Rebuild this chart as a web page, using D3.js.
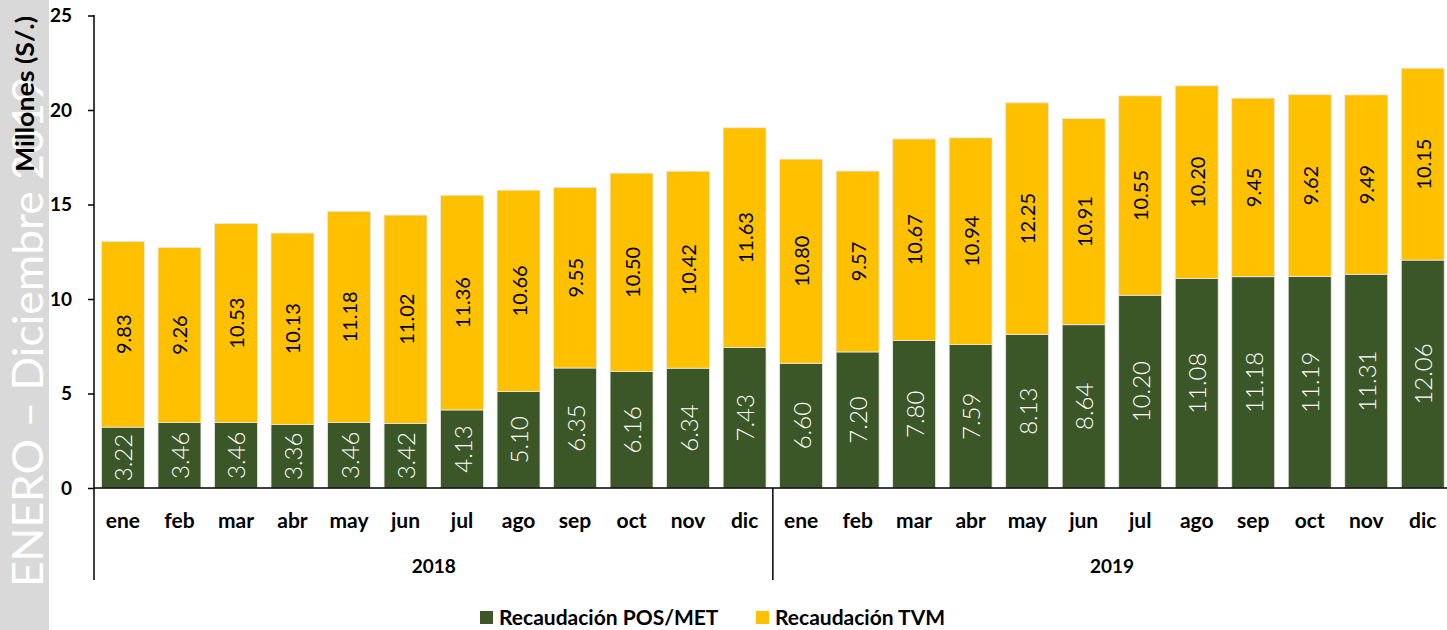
<!DOCTYPE html>
<html><head><meta charset="utf-8">
<script src="https://cdn.jsdelivr.net/npm/d3@7"></script>
<style>body{margin:0;background:#fff}svg{display:block}</style>
</head><body>
<svg id="c" width="1447" height="630"></svg>
<script>
const months = ["ene","feb","mar","abr","may","jun","jul","ago","sep","oct","nov","dic"];
const years = ["2018","2019"];
const posMet = [3.22,3.46,3.46,3.36,3.46,3.42,4.13,5.10,6.35,6.16,6.34,7.43,
                6.60,7.20,7.80,7.59,8.13,8.64,10.20,11.08,11.18,11.19,11.31,12.06];
const tvm = [9.83,9.26,10.53,10.13,11.18,11.02,11.36,10.66,9.55,10.50,10.42,11.63,
             10.80,9.57,10.67,10.94,12.25,10.91,10.55,10.20,9.45,9.62,9.49,10.15];
const yTicks = [0,5,10,15,20,25];
const seriesNames = ["Recaudación POS/MET","Recaudación TVM"];

const GREEN = "#3b5727", YELLOW = "#ffc000";
const svg = d3.select("#c");
const font = "Lato, 'Open Sans', sans-serif";

// left grey band
svg.append("rect").attr("x",0).attr("y",0).attr("width",49).attr("height",630).attr("fill","#d9d9d9");
svg.append("text").attr("transform","translate(43,587) rotate(-90)")
  .attr("font-family",font).attr("font-size",43).attr("fill","#fff")
  .attr("textLength",510).attr("lengthAdjust","spacingAndGlyphs")
  .text("ENERO – Diciembre 2019");
svg.append("text").attr("transform","translate(34,94) rotate(-90)")
  .attr("font-family",font).attr("font-size",24).attr("font-weight","bold").attr("fill","#000")
  .attr("text-anchor","middle").attr("textLength",156).attr("lengthAdjust","spacingAndGlyphs")
  .text("Millones (S/.)");

const data = posMet.map((p,i)=>({key:i, month:months[i%12], year:years[Math.floor(i/12)], pos:p, tvm:tvm[i]}));

const x = d3.scaleBand().domain(data.map(d=>d.key)).range([94.7,1451]).paddingInner(0.24).paddingOuter(0.12);
const y = d3.scaleLinear().domain([0,25]).range([488,15.5]);

// bars
const g = svg.append("g");
const stack = d3.stack().keys(["pos","tvm"])(data);
const colors = [GREEN, YELLOW];
stack.forEach((layer,li)=>{
  g.selectAll(null).data(layer).enter().append("rect")
    .attr("x",d=>x(d.data.key)).attr("width",x.bandwidth())
    .attr("y",d=>y(d[1])).attr("height",d=>y(d[0])-y(d[1]))
    .attr("fill",colors[li]).attr("stroke","#e8e8e8").attr("stroke-width",0.8);
  g.selectAll(null).data(layer).enter().append("text")
    .attr("transform",d=>`translate(${x(d.data.key)+x.bandwidth()/2},${(y(d[0])+y(d[1]))/2}) rotate(-90)`)
    .attr("text-anchor","middle").attr("dominant-baseline","central")
    .attr("font-family",font).attr("font-weight", li===0?300:400)
    .attr("font-size", li===0?24:20)
    .attr("fill", li===0?"#fff":"#000")
    .text(d=>(d[1]-d[0]).toFixed(2));
});

// y axis
const yAxis = svg.append("g").attr("transform","translate(94,0)")
  .call(d3.axisLeft(y).tickValues(yTicks).tickSize(6).tickPadding(16).tickFormat(d3.format("d")));
yAxis.select(".domain").remove();
yAxis.selectAll(".tick line").attr("stroke","#000").attr("stroke-width",1.5);
yAxis.selectAll("text").attr("font-family",font).attr("font-weight","bold").attr("font-size",19).attr("fill","#000");
svg.append("line").attr("x1",94).attr("x2",94).attr("y1",15).attr("y2",580).attr("stroke","#000").attr("stroke-width",1.5);

// x axis
const xAxis = svg.append("g").attr("transform","translate(0,488)")
  .call(d3.axisBottom(x).tickSize(0).tickPadding(25).tickFormat(k=>months[k%12]));
xAxis.select(".domain").remove();
xAxis.selectAll("text").attr("font-family",font).attr("font-weight","bold").attr("font-size",21).attr("fill","#000");
svg.append("line").attr("x1",94).attr("x2",1447).attr("y1",488).attr("y2",488).attr("stroke","#000").attr("stroke-width",1.5);

// year groups
years.forEach((yr,i)=>{
  const x0 = x.range()[0] + i*12*x.step(), x1 = x0 + 12*x.step();
  svg.append("text").attr("x",(x0+x1)/2).attr("y",573).attr("text-anchor","middle")
    .attr("font-family",font).attr("font-weight","bold").attr("font-size",19).text(yr);
  if(i>0) svg.append("line").attr("x1",x0).attr("x2",x0).attr("y1",488).attr("y2",580).attr("stroke","#000").attr("stroke-width",1.5);
});

// legend
const leg = [{x:480,c:GREEN,t:seriesNames[0]},{x:756,c:YELLOW,t:seriesNames[1]}];
leg.forEach(l=>{
  svg.append("rect").attr("x",l.x).attr("y",611).attr("width",13).attr("height",13).attr("fill",l.c);
  svg.append("text").attr("x",l.x+19).attr("y",625).attr("font-family",font).attr("font-weight","bold")
    .attr("font-size",21).attr("fill","#000").text(l.t);
});
</script>
</body></html>
